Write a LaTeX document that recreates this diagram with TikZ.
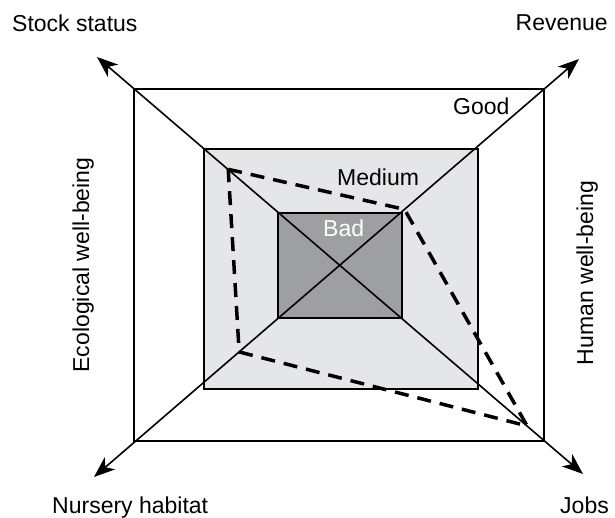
\documentclass[tikz,border=0pt]{standalone}
\usepackage{fontspec}
\setmainfont{Liberation Sans}
\usetikzlibrary{arrows.meta,calc}
\definecolor{mediumgray}{RGB}{229,230,231}
\definecolor{badgray}{RGB}{158,159,161}
\tikzset{
  axis/.style={line width=1.6pt,{Stealth[length=21pt,width=16pt,inset=6pt]}-{Stealth[length=21pt,width=16pt,inset=6pt]}},
  frame/.style={line width=1.8pt},
  score/.style={line width=3.5pt,dash pattern=on 14pt off 9pt},
  lbl/.style={font=\fontsize{23}{27}\selectfont,inner sep=0pt},
}
\begin{document}
\begin{tikzpicture}[x=1pt,y=-1pt]
\useasboundingbox (0,0) rectangle (615,518);
\coordinate (O) at (340,265);
\coordinate (SS) at (97,57);
\coordinate (R) at (579,59);
\coordinate (J) at (583,474);
\coordinate (NH) at (94,477);
\draw[frame] (134,89) rectangle (544,441);
\draw[frame,fill=mediumgray] (204,149) rectangle (478,389);
\draw[frame,fill=badgray] (278,213) rectangle (402,318);
\draw[axis] (SS) -- (J);
\draw[axis] (NH) -- (R);
\coordinate (s1) at ($(O)!0.46!(SS)$);
\coordinate (s2) at ($(O)!0.27!(R)$);
\coordinate (s3) at ($(O)!0.77!(J)$);
\coordinate (s4) at ($(O)!0.41!(NH)$);
\draw[score] (s1) -- (s2) -- (s3) -- (s4) -- cycle;
\node[lbl,anchor=base west] (stock) at (12,32) {Stock status};
\node[lbl,anchor=base east] (rev) at (608,31) {Revenue};
\node[lbl,anchor=base west] (nursery) at (52,513) {Nursery habitat};
\node[lbl,anchor=base east] (jobs) at (609,513) {Jobs};
\node[lbl,anchor=base,rotate=90] (eco) at (89,265) {Ecological well-being};
\node[lbl,anchor=base,rotate=90] (human) at (593,273) {Human well-being};
\node[lbl,anchor=base west] (good) at (453,115) {Good};
\node[lbl,anchor=base west] (medium) at (337,186) {Medium};
\node[lbl,anchor=base west,white] (bad) at (323,237) {Bad};
\end{tikzpicture}
\end{document}
